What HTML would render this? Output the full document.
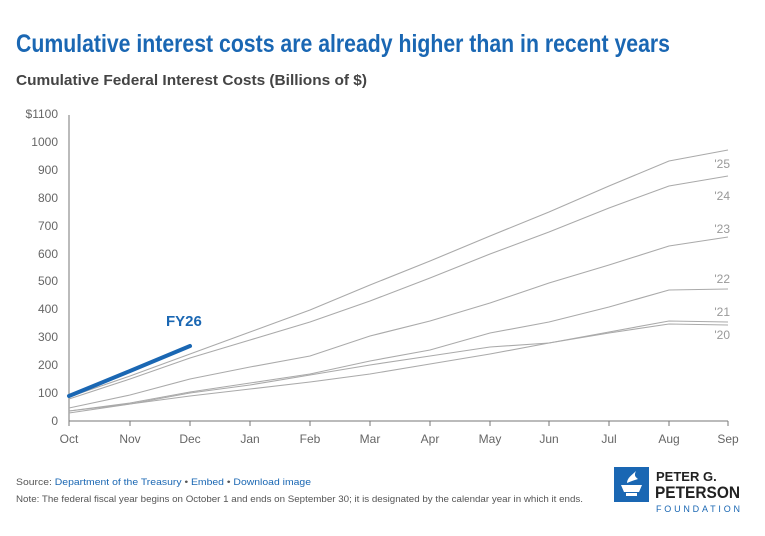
<!DOCTYPE html>
<html><head><meta charset="utf-8"><style>
body{margin:0;width:765px;height:531px;background:#fff;font-family:"Liberation Sans",sans-serif;overflow:hidden}
</style></head><body>
<svg width="765" height="531" xmlns="http://www.w3.org/2000/svg" font-family="Liberation Sans, sans-serif">
<text x="16" y="52" font-size="25" font-weight="bold" fill="#1a67b3" textLength="654" lengthAdjust="spacingAndGlyphs">Cumulative interest costs are already higher than in recent years</text>
<text x="16" y="85" font-size="15" font-weight="bold" fill="#444" textLength="351" lengthAdjust="spacingAndGlyphs">Cumulative Federal Interest Costs (Billions of $)</text>
<g font-size="12" fill="#666" text-anchor="end">
<text x="58" y="118">$1100</text><text x="58" y="146">1000</text><text x="58" y="174">900</text><text x="58" y="202">800</text><text x="58" y="230">700</text><text x="58" y="258">600</text><text x="58" y="285">500</text><text x="58" y="313">400</text><text x="58" y="341">300</text><text x="58" y="369">200</text><text x="58" y="397">100</text><text x="58" y="425">0</text>
</g>
<path d="M69 115V421H728" stroke="#777" fill="none"/>
<g stroke="#777"><path d="M69 421v5M130 421v5M190 421v5M250 421v5M310 421v5M370 421v5M430 421v5M490 421v5M549 421v5M609 421v5M669 421v5M728 421v5"/></g>
<g font-size="12" fill="#666" text-anchor="middle">
<text x="69" y="443">Oct</text><text x="130" y="443">Nov</text><text x="190" y="443">Dec</text><text x="250" y="443">Jan</text><text x="310" y="443">Feb</text><text x="370" y="443">Mar</text><text x="430" y="443">Apr</text><text x="490" y="443">May</text><text x="549" y="443">Jun</text><text x="609" y="443">Jul</text><text x="669" y="443">Aug</text><text x="728" y="443">Sep</text>
</g>
<g fill="none" stroke="#aaa" stroke-width="1.1">
<polyline points="69,397 130,376 190,354 250,332 310,310 370,285 430,261 490,236 549,212 609,186 669,161 728,150"/>
<polyline points="69,399 130,379 190,358 250,340 310,322 370,301 430,278 490,254 549,232 609,208 669,186 728,176"/>
<polyline points="69,408 130,395 190,379 250,367 310,356 370,336 430,321 490,303 549,283 609,265 669,246 728,237"/>
<polyline points="69,411 130,403 190,392 250,383 310,374 370,361 430,350 490,333 549,322 609,307 669,290 728,289"/>
<polyline points="69,411 130,404 190,393 250,385 310,375 370,365 430,356 490,347 549,343 609,332 669,321 728,322"/>
<polyline points="69,413 130,404 190,396 250,389 310,382 370,374 430,364 490,354 549,343 609,333 669,324 728,325"/>
</g>
<polyline points="69,396 130,371 190,346" fill="none" stroke="#1a67b3" stroke-width="4" stroke-linecap="round"/>
<text x="166" y="326" font-size="15" font-weight="bold" fill="#1a67b3">FY26</text>
<g font-size="12" fill="#999" text-anchor="end">
<text x="730" y="168">'25</text><text x="730" y="200">'24</text><text x="730" y="233">'23</text><text x="730" y="283">'22</text><text x="730" y="316">'21</text><text x="730" y="339">'20</text>
</g>
<text x="16" y="485" font-size="9.5" fill="#555" textLength="295" lengthAdjust="spacingAndGlyphs">Source: <tspan fill="#1a67b3">Department of the Treasury</tspan> • <tspan fill="#1a67b3">Embed</tspan> • <tspan fill="#1a67b3">Download image</tspan></text>
<text x="16" y="502" font-size="9.5" fill="#555" textLength="567" lengthAdjust="spacingAndGlyphs">Note: The federal fiscal year begins on October 1 and ends on September 30; it is designated by the calendar year in which it ends.</text>
<rect x="614" y="467" width="35" height="35" fill="#1a67b3"/>
<path d="M621 485h21l-3 7h-15z M626 493h11v3h-11z" fill="#fff"/>
<path d="M627 483c0-5 5-8 9-12-2 4-1 6 2 8-3 1-6 2-11 4z" fill="#fff"/>
<text x="656" y="481" font-size="13" font-weight="bold" fill="#222">PETER G.</text>
<text x="655" y="498" font-size="17" font-weight="bold" fill="#222" textLength="85" lengthAdjust="spacingAndGlyphs">PETERSON</text>
<text x="656" y="512" font-size="9" fill="#1a67b3" textLength="84" lengthAdjust="spacing">FOUNDATION</text>
</svg>
</body></html>
